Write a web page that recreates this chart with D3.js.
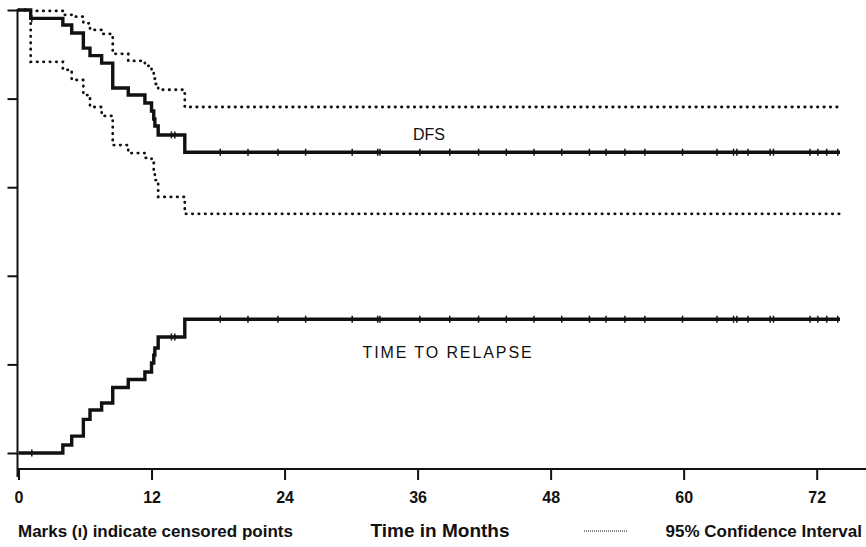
<!DOCTYPE html>
<html>
<head>
<meta charset="utf-8">
<script src="https://cdn.jsdelivr.net/npm/d3@7"></script>
<style>
  body { margin: 0; background: #fff; }
  text { font-family: "Liberation Sans", Arial, sans-serif; fill: #111; }
</style>
</head>
<body>
<script>
// step times (months) where DFS / relapse curves change
var dfsTime  = [0, 1.1, 4.0, 4.8, 5.85, 6.45, 7.5, 8.5, 9.9, 11.4, 12.0, 12.2, 12.3, 12.6, 15.0];
var dfsSurv  = [1, 0.981, 0.966, 0.948, 0.914, 0.897, 0.880, 0.824, 0.808, 0.790, 0.772, 0.754, 0.738, 0.718, 0.679];
var dfsUpper = [1, 0.998, 0.989, 0.985, 0.970, 0.955, 0.946, 0.901, 0.885, 0.874, 0.858, 0.845, 0.833, 0.820, 0.781];
var dfsLower = [1, 0.883, 0.865, 0.842, 0.808, 0.781, 0.761, 0.695, 0.677, 0.666, 0.655, 0.634, 0.616, 0.578, 0.540];

var relTime = [0, 4.0, 4.8, 5.85, 6.45, 7.5, 8.5, 9.9, 11.4, 12.0, 12.2, 12.3, 12.6, 15.0];
var relCum  = [0, 0.018, 0.038, 0.076, 0.097, 0.113, 0.148, 0.166, 0.183, 0.203, 0.221, 0.237, 0.262, 0.302];

var lastFollowUp = 74.1;
// censored observations (months)
var censorTimes = [1.2, 13.8, 14.1, 18.2, 20.7, 23.4, 25.9, 30.1, 32.4, 32.6, 36.2, 38.9, 41.5, 44.0,
                   46.5, 49.0, 51.5, 53.0, 54.7, 56.5, 59.9, 63.0, 64.5, 64.8, 65.8, 67.8, 68.1,
                   71.4, 72.1, 72.9, 73.9];

var xTicks = [0, 12, 24, 36, 48, 60, 72];
var yTicks = [0, 0.2, 0.4, 0.6, 0.8, 1.0];

var W = 866, H = 547;
var svg = d3.select("body").append("svg").attr("width", W).attr("height", H);

var x = d3.scaleLinear().domain([0, 72]).range([18.5, 816.7]);
var y = d3.scaleLinear().domain([0, 1]).range([453, 10]);
var xAxisY = 469;

// turn time/value arrays into points, carried to last follow-up
function pts(t, v) {
  var p = t.map(function(d, i) { return [d, v[i]]; });
  p.push([lastFollowUp, v[v.length - 1]]);
  return p;
}
function valueAt(t, v, time) {
  var r = v[0];
  for (var i = 0; i < t.length; i++) { if (t[i] <= time) r = v[i]; }
  return r;
}

var line = d3.line().x(function(d) { return x(d[0]); }).y(function(d) { return y(d[1]); })
  .curve(d3.curveStepAfter);

// axes
var yAxis = svg.append("g").attr("transform", "translate(17.5,0)")
  .call(d3.axisLeft(y).tickValues(yTicks).tickSize(10).tickSizeOuter(0).tickFormat(""));
yAxis.select(".domain").remove();
yAxis.selectAll("line").attr("stroke", "#111").attr("stroke-width", 2);
svg.append("line").attr("x1", 17.5).attr("x2", 17.5).attr("y1", y(1) - 1).attr("y2", 477)
  .attr("stroke", "#111").attr("stroke-width", 2);

var xAxis = svg.append("g").attr("transform", "translate(0," + xAxisY + ")")
  .call(d3.axisBottom(x).tickValues(xTicks).tickSize(11).tickSizeOuter(0).tickPadding(12));
xAxis.select(".domain").remove();
xAxis.selectAll("line").attr("stroke", "#111").attr("stroke-width", 2);
xAxis.selectAll("text").attr("font-size", 16).attr("font-weight", "bold")
  .style("font-family", "'Liberation Sans', Arial, sans-serif").attr("fill", "#111");
svg.append("line").attr("x1", 17).attr("x2", W).attr("y1", xAxisY).attr("y2", xAxisY)
  .attr("stroke", "#111").attr("stroke-width", 2);

// confidence bands (dotted)
[dfsUpper, dfsLower].forEach(function(v) {
  svg.append("path").datum(pts(dfsTime, v)).attr("d", line)
    .attr("fill", "none").attr("stroke", "#111").attr("stroke-width", 2.8)
    .attr("stroke-linecap", "round").attr("stroke-dasharray", "0.4 6");
});

// solid curves
var curves = [{t: dfsTime, v: dfsSurv}, {t: relTime, v: relCum}];
curves.forEach(function(c) {
  svg.append("path").datum(pts(c.t, c.v)).attr("d", line)
    .attr("fill", "none").attr("stroke", "#111").attr("stroke-width", 3.4);
  // censor marks
  svg.append("g").selectAll("line").data(censorTimes).enter().append("line")
    .attr("x1", function(d) { return x(d); }).attr("x2", function(d) { return x(d); })
    .attr("y1", function(d) { return y(valueAt(c.t, c.v, d)) - 3.5; })
    .attr("y2", function(d) { return y(valueAt(c.t, c.v, d)) + 3.5; })
    .attr("stroke", "#111").attr("stroke-width", 1.5);
});

// curve labels
svg.append("text").attr("x", 429).attr("y", 140).attr("text-anchor", "middle")
  .attr("font-size", 16).text("DFS");
svg.append("text").attr("x", 448).attr("y", 358).attr("text-anchor", "middle")
  .attr("font-size", 16).attr("letter-spacing", 1.9).text("TIME TO RELAPSE");

// bottom notes
svg.append("text").attr("x", 18).attr("y", 537).attr("font-size", 17).attr("font-weight", "bold")
  .text("Marks (\u0131) indicate censored points");
svg.append("text").attr("x", 440).attr("y", 537).attr("text-anchor", "middle")
  .attr("font-size", 19).attr("font-weight", "bold").text("Time in Months");
svg.append("line").attr("x1", 584).attr("x2", 628).attr("y1", 531).attr("y2", 531)
  .attr("stroke", "#111").attr("stroke-width", 1).attr("stroke-dasharray", "1 1");
svg.append("text").attr("x", 862).attr("y", 537).attr("text-anchor", "end")
  .attr("font-size", 17).attr("font-weight", "bold").text("95% Confidence Interval");
</script>
</body>
</html>
